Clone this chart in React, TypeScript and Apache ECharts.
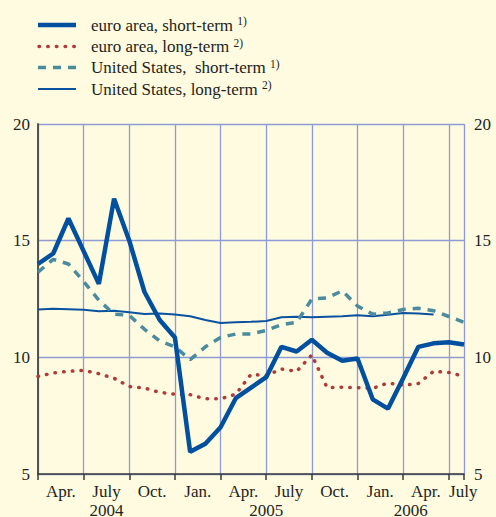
import React, { useEffect, useRef } from "react";
import * as echarts from "echarts";

// Month index 0 = Apr. 2004 ... 28 = Aug. 2006
const euroShort = [14.0, 14.45, 15.95, 14.55, 13.15, 16.8, 15.0, 12.8, 11.6, 10.85, 5.95, 6.3, 7.0, 8.25, 8.7, 9.15, 10.45, 10.25, 10.75, 10.2, 9.85, 9.95, 8.2, 7.8, 9.1, 10.45, 10.6, 10.65, 10.55];
const euroLong = [9.18, 9.33, 9.4, 9.44, 9.3, 9.1, 8.75, 8.68, 8.5, 8.42, 8.4, 8.22, 8.22, 8.42, 9.27, 9.22, 9.5, 9.4, 10.1, 8.7, 8.72, 8.7, 8.67, 8.9, 8.8, 8.88, 9.4, 9.35, 9.18];
const usShort = [13.65, 14.2, 14.0, 13.25, 12.45, 11.85, 11.8, 11.2, 10.7, 10.45, 9.9, 10.45, 10.85, 11.0, 11.0, 11.15, 11.4, 11.5, 12.5, 12.55, 12.85, 12.2, 11.85, 11.9, 12.05, 12.1, 12.0, 11.75, 11.5];
const usLong = [12.05, 12.08, 12.06, 12.04, 11.98, 12.0, 11.93, 11.86, 11.88, 11.84, 11.76, 11.6, 11.47, 11.5, 11.52, 11.56, 11.72, 11.74, 11.72, 11.74, 11.76, 11.8, 11.76, 11.82, 11.9, 11.88, 11.84];

const quarterLabels = ["Apr.", "July", "Oct.", "Jan.", "Apr.", "July", "Oct.", "Jan.", "Apr.", "July"];
const yearLabels = ["2004", "2005", "2006"];
const yTicks = [5, 10, 15, 20];

const legendNames = ["euro area, short-term", "euro area, long-term", "United States,  short-term", "United States, long-term"];
const legendNotes = ["1)", "2)", "1)", "2)"];

const FONT = "'Liberation Serif', 'DejaVu Serif', serif";
const TXT = "#231f20";
const GRID = "#8e9bd4";
const C_ES = "#00509f";
const C_EL = "#b03a3a";
const C_US = "#4a8b9d";
const C_UL = "#0a52a0";
const FS = 17;

const X_MAX = 28;
const firstMonthOffset = 3; // Apr. is 3 months after Jan.

export default function App() {
  const ref = useRef<HTMLDivElement>(null);
  useEffect(() => {
    if (!ref.current) return;
    const chart = echarts.init(ref.current, undefined, { renderer: "svg" });

    const qPos = quarterLabels.map((_, i) => Math.min(1.5 + 3 * i, 27.95));
    const yPos = yearLabels.map((_, i) => {
      const s = Math.max(0, i * 12 - firstMonthOffset);
      const e = Math.min(X_MAX, (i + 1) * 12 - firstMonthOffset);
      return (s + e) / 2;
    });

    const rows = [25, 46.5, 67.5, 89];
    const legendGraphics: any[] = [];
    const styles = [
      { stroke: C_ES, lineWidth: 4.5 },
      { stroke: C_EL, lineWidth: 3.5, lineDash: [0.5, 8.2], lineCap: "round" },
      { stroke: C_US, lineWidth: 3.5, lineDash: [8, 7] },
      { stroke: C_UL, lineWidth: 2 },
    ];
    legendNames.forEach((name, i) => {
      legendGraphics.push({
        type: "line",
        shape: { x1: i === 1 ? 39 : 38, y1: rows[i], x2: 76, y2: rows[i] },
        style: styles[i],
      });
      legendGraphics.push({
        type: "text",
        x: 91,
        y: rows[i],
        style: {
          text: `{m|${name} }{s|${legendNotes[i]}}`,
          verticalAlign: "middle",
          rich: {
            m: { fontFamily: FONT, fontSize: FS, fill: TXT, color: TXT, lineHeight: 20 },
            s: { fontFamily: FONT, fontSize: 11.5, fill: TXT, color: TXT, lineHeight: 20, verticalAlign: "top" },
          },
        },
      });
    });

    const axisCommon = { min: 5, max: 20, interval: 5 };
    const hiddenX = {
      type: "value",
      position: "bottom",
      min: 0,
      max: X_MAX,
      axisLine: { show: false },
      axisTick: { show: false },
      splitLine: { show: false },
    };
    chart.setOption({
      animation: false,
      backgroundColor: "#fffbe0",
      grid: { left: 38, right: 32, top: 124, bottom: 43, containLabel: false, outerBoundsMode: "none" },
      xAxis: [
        {
          type: "value",
          position: "bottom",
          min: 0,
          max: X_MAX,
          interval: 3,
          axisLine: { show: true, lineStyle: { color: "#3a3a3a", width: 1.5 } },
          axisTick: { show: true, length: 6, lineStyle: { color: "#3a3a3a", width: 1.5 } },
          splitLine: { show: true, lineStyle: { color: GRID, width: 1.3 } },
          axisLabel: { show: false },
        },
        {
          ...hiddenX,
          axisLabel: {
            show: true,
            customValues: qPos,
            margin: 9,
            fontFamily: FONT,
            fontSize: FS,
            color: TXT,
            formatter: (v: number) => {
              const idx = qPos.findIndex((p) => Math.abs(p - v) < 0.01);
              return idx >= 0 ? quarterLabels[idx] : "";
            },
          },
        },
        {
          ...hiddenX,
          axisLabel: {
            show: true,
            customValues: yPos,
            margin: 28,
            fontFamily: FONT,
            fontSize: FS,
            color: TXT,
            formatter: (v: number) => {
              const idx = yPos.findIndex((p) => Math.abs(p - v) < 0.01);
              return idx >= 0 ? yearLabels[idx] : "";
            },
          },
        },
      ],
      yAxis: [
        {
          type: "value",
          position: "left",
          ...axisCommon,
          axisLine: { show: true, lineStyle: { color: "#4d4d4d", width: 1.5 } },
          axisTick: { show: false },
          splitLine: { show: true, lineStyle: { color: GRID, width: 1.3 } },
          axisLabel: {
            margin: 8,
            fontFamily: FONT,
            fontSize: FS,
            color: TXT,
            customValues: yTicks,
          },
        },
        {
          type: "value",
          position: "right",
          ...axisCommon,
          axisLine: { show: true, lineStyle: { color: "#4d4d4d", width: 1.5 } },
          axisTick: { show: false },
          splitLine: { show: false },
          axisLabel: {
            margin: 10,
            fontFamily: FONT,
            fontSize: FS,
            color: TXT,
            customValues: yTicks,
          },
        },
      ],
      series: [
        {
          name: legendNames[3],
          type: "line",
          data: usLong.map((v, i) => [i, v]),
          showSymbol: false,
          lineStyle: { color: C_UL, width: 2 },
        },
        {
          name: legendNames[1],
          type: "line",
          data: euroLong.map((v, i) => [i, v]),
          showSymbol: false,
          lineStyle: { color: C_EL, width: 3.5, type: [0.5, 8.2], cap: "round" },
        },
        {
          name: legendNames[2],
          type: "line",
          data: usShort.map((v, i) => [i, v]),
          showSymbol: false,
          lineStyle: { color: C_US, width: 3.5, type: [8, 7] },
        },
        {
          name: legendNames[0],
          type: "line",
          data: euroShort.map((v, i) => [i, v]),
          showSymbol: false,
          lineStyle: { color: C_ES, width: 4.5 },
        },
      ],
      graphic: legendGraphics,
    });
    return () => chart.dispose();
  }, []);
  return (
    <div
      ref={ref}
      style={{ position: "fixed", left: 0, top: 0, width: 496, height: 517 }}
    />
  );
}
